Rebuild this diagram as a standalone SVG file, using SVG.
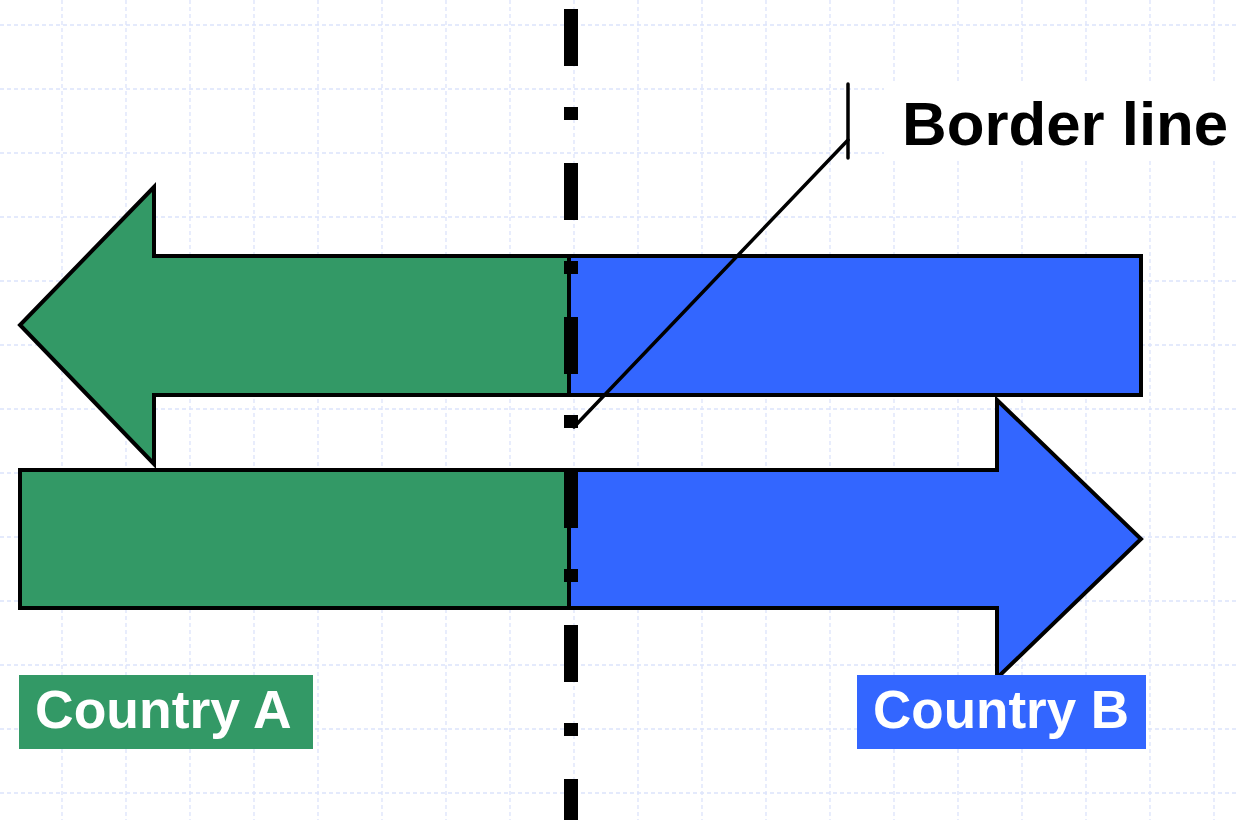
<svg xmlns="http://www.w3.org/2000/svg" width="1236" height="820" viewBox="0 0 1236 820">
  <style>
    .grid line { stroke: #dce3fb; stroke-width: 1.3; stroke-dasharray: 4 3; }
    .shape { stroke: #000; stroke-width: 4; stroke-linejoin: miter; }
    .green { fill: #339966; }
    .blue { fill: #3366ff; }
    .lbl { font-family: "Liberation Sans", Arial, sans-serif; font-weight: bold; }
  </style>
  <rect width="1236" height="820" fill="#fff"/>
  <g class="grid">
    <line x1="62" y1="0" x2="62" y2="820"/><line x1="126" y1="0" x2="126" y2="820"/>
    <line x1="190" y1="0" x2="190" y2="820"/><line x1="254" y1="0" x2="254" y2="820"/>
    <line x1="318" y1="0" x2="318" y2="820"/><line x1="382" y1="0" x2="382" y2="820"/>
    <line x1="446" y1="0" x2="446" y2="820"/><line x1="510" y1="0" x2="510" y2="820"/>
    <line x1="574" y1="0" x2="574" y2="820"/><line x1="638" y1="0" x2="638" y2="820"/>
    <line x1="702" y1="0" x2="702" y2="820"/><line x1="766" y1="0" x2="766" y2="820"/>
    <line x1="830" y1="0" x2="830" y2="820"/><line x1="894" y1="0" x2="894" y2="820"/>
    <line x1="958" y1="0" x2="958" y2="820"/><line x1="1022" y1="0" x2="1022" y2="820"/>
    <line x1="1086" y1="0" x2="1086" y2="820"/><line x1="1150" y1="0" x2="1150" y2="820"/>
    <line x1="1214" y1="0" x2="1214" y2="820"/>
    <line x1="0" y1="25" x2="1236" y2="25"/><line x1="0" y1="89" x2="1236" y2="89"/>
    <line x1="0" y1="153" x2="1236" y2="153"/><line x1="0" y1="217" x2="1236" y2="217"/>
    <line x1="0" y1="281" x2="1236" y2="281"/><line x1="0" y1="345" x2="1236" y2="345"/>
    <line x1="0" y1="409" x2="1236" y2="409"/><line x1="0" y1="473" x2="1236" y2="473"/>
    <line x1="0" y1="537" x2="1236" y2="537"/><line x1="0" y1="601" x2="1236" y2="601"/>
    <line x1="0" y1="665" x2="1236" y2="665"/><line x1="0" y1="729" x2="1236" y2="729"/>
    <line x1="0" y1="793" x2="1236" y2="793"/>
  </g>

  <g id="arrow-top">
    <polygon class="shape green" points="569,256 154,256 154,187 20,325 154,464 154,395 569,395"/>
    <rect class="shape blue" x="569" y="256" width="572" height="139"/>
  </g>
  <g id="arrow-bottom">
    <rect class="shape green" x="20" y="470" width="549" height="138"/>
    <polygon class="shape blue" points="569,470 997,470 997,400 1141,539 997,678 997,608 569,608"/>
  </g>

  <g id="border-line">
    <line x1="571" y1="9" x2="571" y2="820" stroke="#000" stroke-width="14" stroke-dasharray="57 41 13 43"/>
  </g>

  <g id="connectors">
    <line x1="574" y1="427" x2="848" y2="140" stroke="#000" stroke-width="3.5" stroke-linecap="round"/>
  </g>

  <g id="label-border">
    <rect x="884" y="83" width="352" height="75" fill="#fff"/>
    <line x1="848" y1="84" x2="848" y2="158" stroke="#000" stroke-width="3.5" stroke-linecap="round"/>
    <text class="lbl" x="902" y="145" font-size="61.8" fill="#000">Border line</text>
  </g>

  <g id="label-a">
    <rect class="green" x="19" y="675" width="294" height="74"/>
    <text class="lbl" x="35" y="728" font-size="53.5" fill="#fff">Country A</text>
  </g>
  <g id="label-b">
    <rect class="blue" x="857" y="675" width="289" height="74"/>
    <text class="lbl" x="873" y="728" font-size="53" fill="#fff">Country B</text>
  </g>
</svg>
